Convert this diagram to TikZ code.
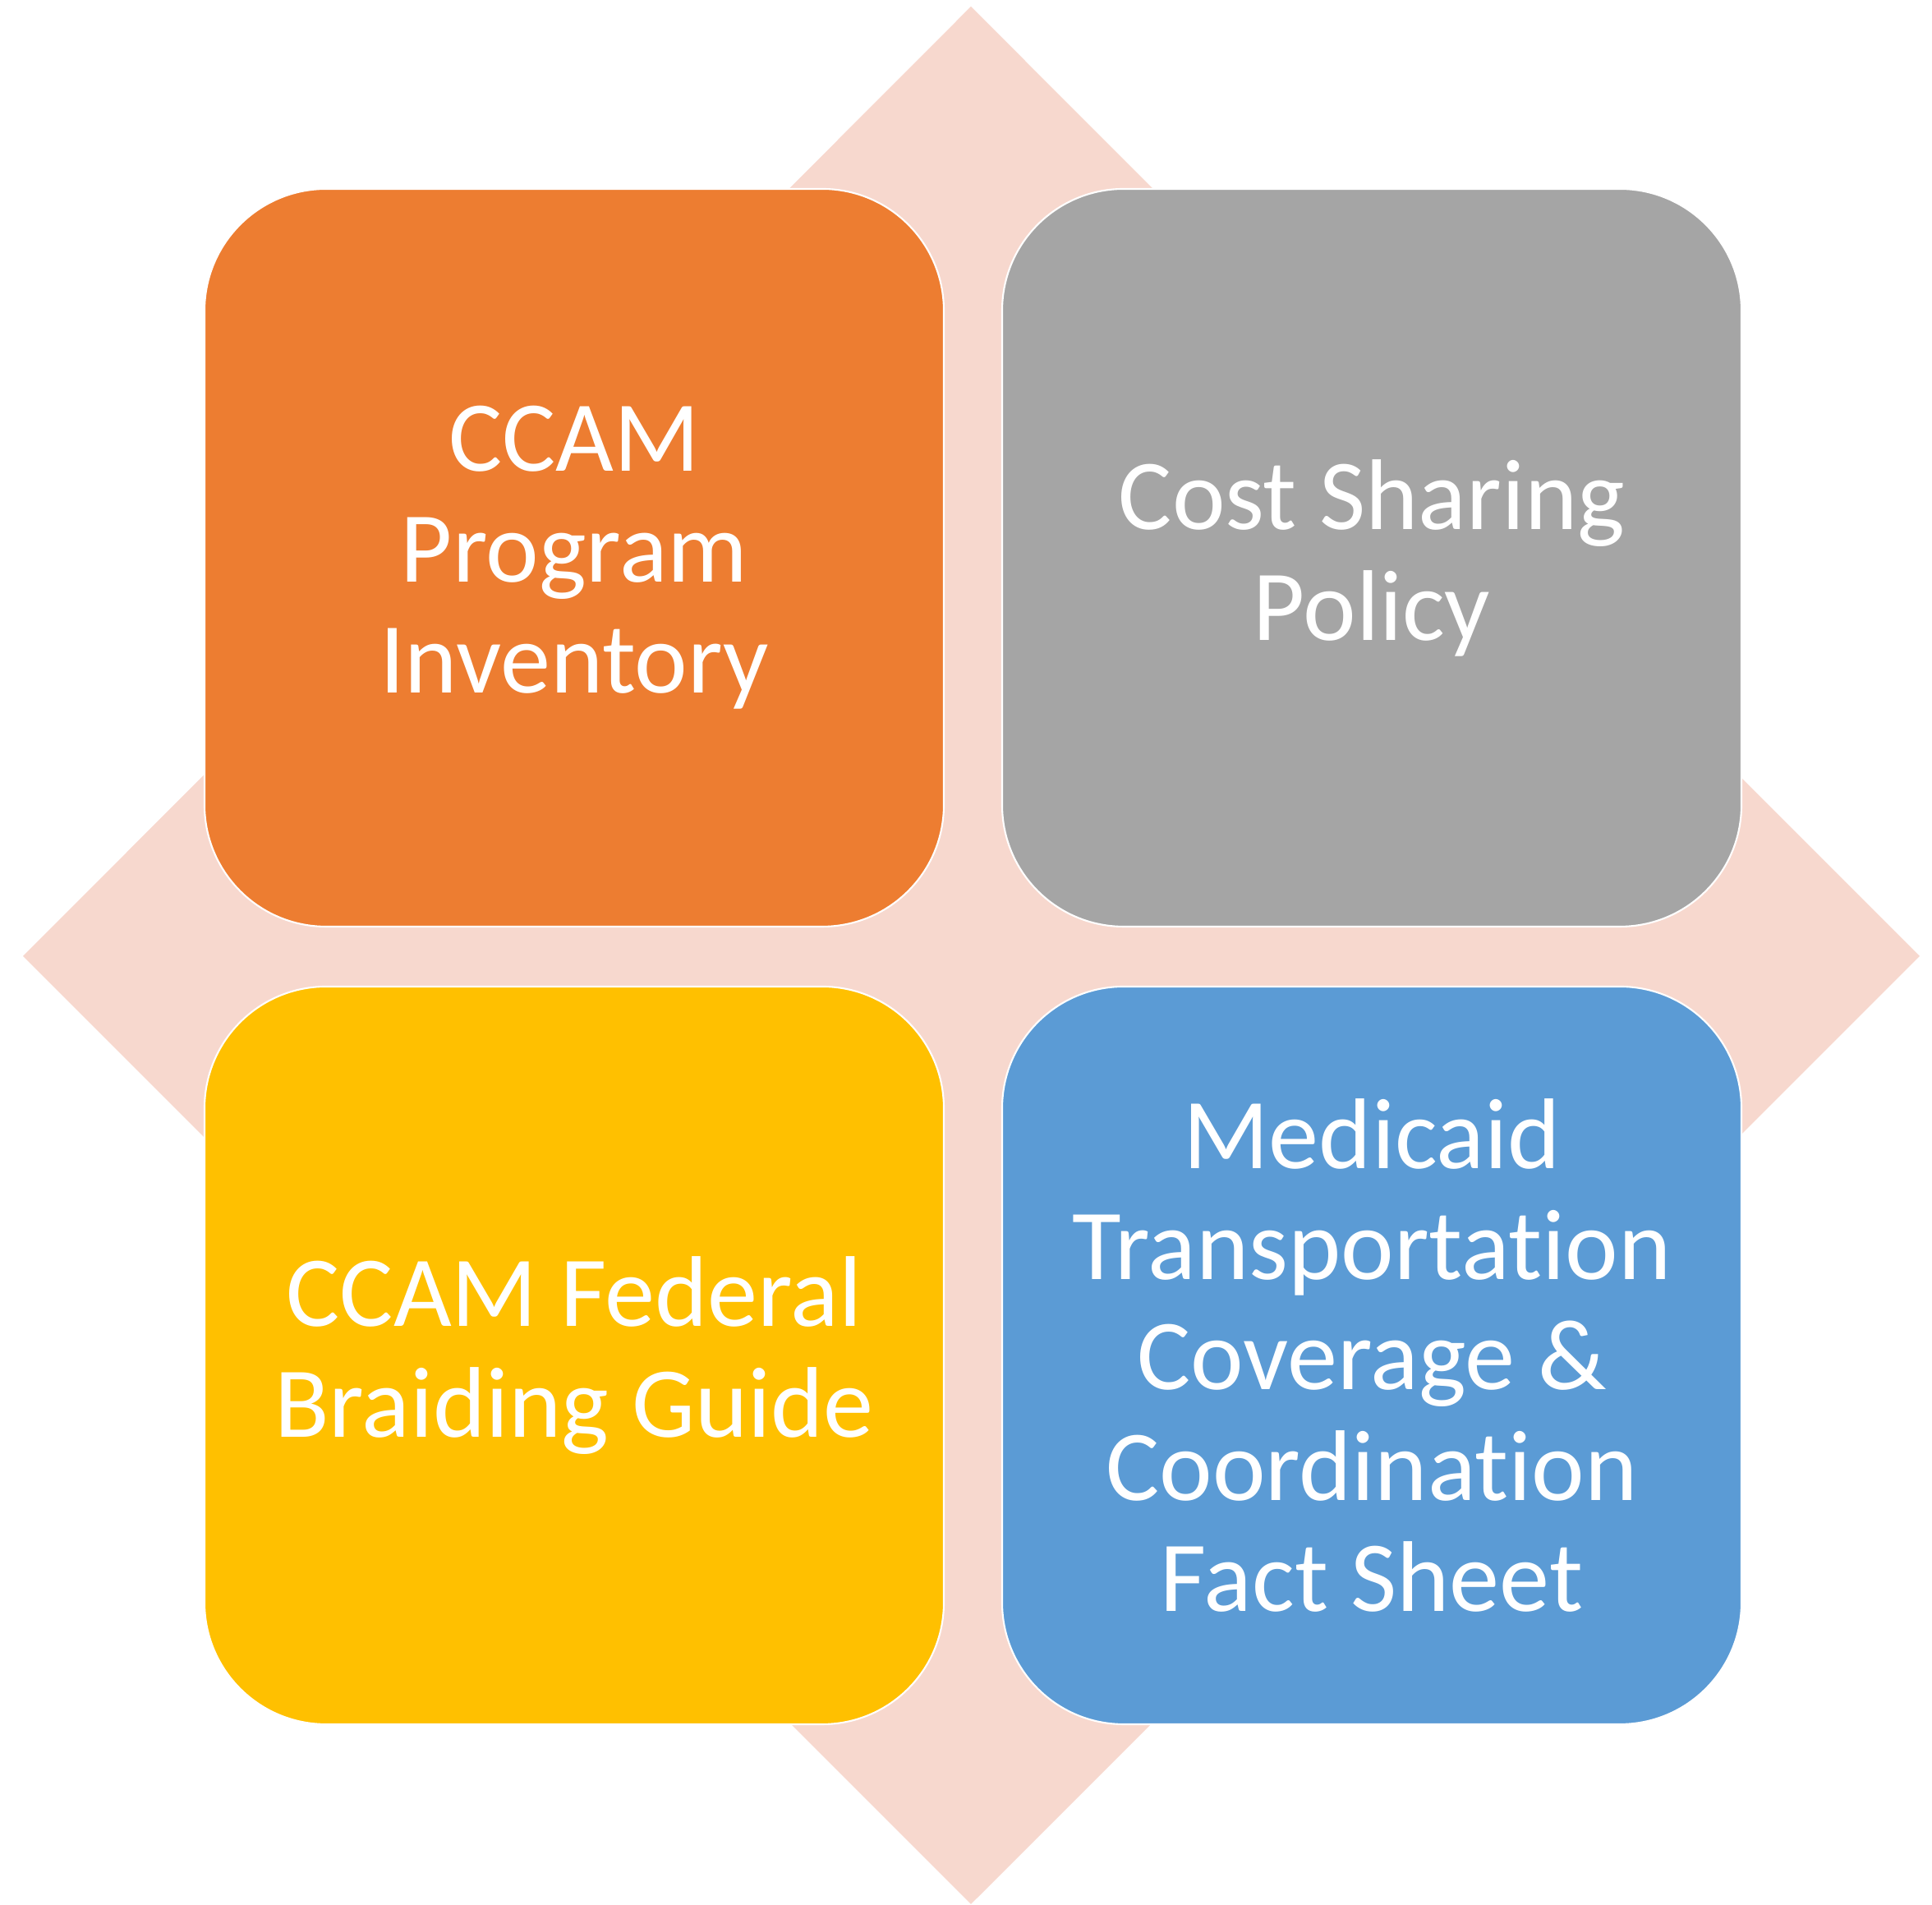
\documentclass[tikz,border=0pt]{standalone}
\usepackage{fontspec}
\setmainfont{Carlito}[Ligatures={NoCommon,NoRare,NoContextual}]

\definecolor{tileorange}{HTML}{ED7D31}
\definecolor{tilegray}{HTML}{A5A5A5}
\definecolor{tileyellow}{HTML}{FFC000}
\definecolor{tileblue}{HTML}{5B9BD5}
\definecolor{diamondpink}{HTML}{F7D8CE}

\tikzset{
	tile/.style={draw=white, line width=0.6pt, rounded corners=1.48cm,
		minimum width=9cm, minimum height=8.98cm, inner sep=0pt,
		text=white, align=center, font=\fontsize{34.8}{38.4}\selectfont}
}

\begin{document}
\begin{tikzpicture}
		\useasboundingbox (0,0) rectangle (23.52,23.19);
		\fill[diamondpink] (11.82,23.11) -- (23.37,11.55) -- (11.82,0.01) -- (0.28,11.55) -- cycle;
		
		\foreach \name/\x/\y/\col/\txt in {inventory/6.99/16.40/tileorange/{CCAM\\Program\\Inventory},
			costsharing/16.70/16.40/tilegray/{Cost Sharing\\Policy},
			braiding/6.99/6.69/tileyellow/{CCAM Federal\\Braiding Guide},
			medicaid/16.70/6.69/tileblue/{Medicaid\\Transportation\\Coverage \&\\Coordination\\Fact Sheet}}
		{
			\node[tile, fill=\col] (\name) at (\x,\y) {\txt};
		}
	\end{tikzpicture}
\end{document}
